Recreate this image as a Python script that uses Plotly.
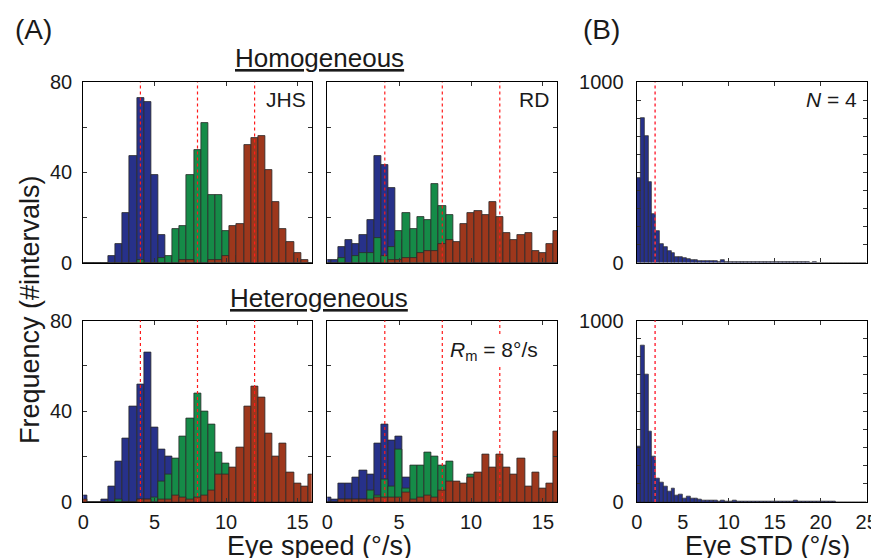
import plotly.graph_objects as go

# ---------------- data ----------------
speed_centers = [k * 0.5 for k in range(33)]  # bin centers 0..16 (deg/s)

# Homogeneous, JHS
hom_jhs_blue  = [0,0,0,0,3,8,22,47,73,71,39,12,1,0,0,0,0,0,0,0,0,0,0,0,0,0,0,0,0,0,0,0,0]
hom_jhs_green = [0,0,0,0,0,0,0,0,1,0,0,2,3,15,16,39,50,62,30,30,14,3,0,0,0,0,0,0,0,0,0,0,0]
hom_jhs_red   = [0,0,0,0,0,0,0,0,0,0,0,0,0,0,1,1,0,0,1,1,3,16,17,52,55,56,41,27,15,9,4,1,0]

# Homogeneous, RD
hom_rd_blue   = [1,1,7,10,8,12,19,47,43,33,10,0,0,0,0,0,0,0,0,0,0,0,0,0,0,0,0,0,0,0,0,0,0]
hom_rd_green  = [0,0,2,0,3,4,4,11,3,7,14,22,15,20,19,35,25,21,0,0,0,0,0,0,0,0,0,0,0,0,0,0,0]
hom_rd_red    = [0,0,0,0,0,0,0,0,0,1,1,2,2,4,5,5,8,10,9,17,22,23,21,27,20,13,10,12,13,5,4,8,14]

# Heterogeneous, JHS
het_jhs_blue  = [3,0,0,1,7,18,28,42,52,66,33,23,20,5,0,0,0,0,0,0,0,0,0,0,0,0,0,0,0,0,0,0,0]
het_jhs_green = [0,0,0,0,0,1,0,0,1,1,2,9,12,19,29,37,48,40,34,22,17,0,0,0,0,0,0,0,0,0,0,0,0]
het_jhs_red   = [1,0,0,0,0,0,0,0,1,1,0,1,1,3,2,1,2,3,5,12,12,15,24,42,51,46,30,20,26,13,8,7,12]

# Heterogeneous, RD
het_rd_blue   = [2,1,8,8,11,14,12,26,34,27,29,11,0,0,0,0,0,0,0,0,0,0,0,0,0,0,0,0,0,0,0,0,0]
het_rd_green  = [0,0,1,1,1,1,5,3,10,7,23,6,16,16,22,20,16,18,0,0,12,0,0,0,0,0,0,0,0,0,0,0,0]
het_rd_red    = [0,0,1,1,1,1,1,2,2,2,2,4,1,2,3,2,5,9,9,8,11,13,21,15,21,15,12,19,7,13,6,8,31]

target_speeds = [4, 8, 12]  # red dashed lines (deg/s)

# Eye STD histograms (N = 4), 60 bins over 0..25
std_bin_width = 25 / 60
std_centers = [(i + 0.5) * std_bin_width for i in range(60)]
hom_std = [468,802,701,446,266,174,105,86,64,50,33,33,27,18,14,14,11,9,8,7,6,5,12,5,4,3,3,2,3,2,
           3,2,2,1,2,1,2,1,1,1,2,1,1,1,1,0,1,0,0,0,0,0,0,0,0,0,0,0,0,0]
het_std = [306,862,701,389,253,128,106,83,59,74,37,40,22,28,18,18,15,9,8,7,6,5,6,5,4,6,4,3,5,3,
           3,4,3,2,3,2,3,2,2,3,1,6,2,2,3,1,2,2,1,1,3,1,0,0,0,0,0,0,0,0,0]
std_mean = 2.0

speed_ticks = [0, 5, 10, 15]
freq_ticks = [0, 20, 40, 60, 80]
freq_labels = ['0', '', '40', '', '80']
std_xticks = [0, 5, 10, 15, 20, 25]
std_yticks = list(range(0, 1001, 100))
std_ylabels = ['0'] + [''] * 9 + ['1000']

# ---------------- styling ----------------
OFF = 8                 # page body margin of the exported html
W, H = 879 - OFF, 558 - OFF
FONT = "Liberation Sans, Arial, Helvetica, sans-serif"
C_BLUE = "#27318a"
C_GREEN = "#158b48"
C_RED = "#9d371c"
EDGE = "#2a2a2a"

def px_x(p):
    return (p - OFF) / W

def px_y(p):
    return 1 - (p - OFF) / H

colA = [(83.3, 311.7), (327.3, 557.3)]
colB = (636.7, 866.7)
rows = [(82.0, 262.5), (320.5, 502.0)]

fig = go.Figure()

panels = [
    (1, 0, 0, [hom_jhs_blue, hom_jhs_green, hom_jhs_red]),
    (2, 0, 1, [hom_rd_blue, hom_rd_green, hom_rd_red]),
    (3, 1, 0, [het_jhs_blue, het_jhs_green, het_jhs_red]),
    (4, 1, 1, [het_rd_blue, het_rd_green, het_rd_red]),
]
colors = [C_BLUE, C_GREEN, C_RED]

layout_axes = {}
shapes = []

def axis_common():
    return dict(showline=True, linecolor="black", linewidth=1.3, mirror="ticks",
                ticks="inside", ticklen=4, tickcolor="#333", tickwidth=1,
                showgrid=False, zeroline=False, automargin=False,
                tickfont=dict(family=FONT, size=20, color="#1a1a1a"))

for idx, r, c, series in panels:
    xs = "x" if idx == 1 else f"x{idx}"
    ys = "y" if idx == 1 else f"y{idx}"
    for vals, col in zip(series, colors):
        fig.add_trace(go.Bar(x=speed_centers, y=vals, width=0.5,
                             marker=dict(color=col, line=dict(color=EDGE, width=0.8)),
                             xaxis=xs, yaxis=ys, showlegend=False))
    x0, x1 = colA[c]
    y0, y1 = rows[r]
    xa = axis_common()
    xa.update(domain=[px_x(x0), px_x(x1)], range=[0, 16], anchor=ys,
              tickvals=speed_ticks, showticklabels=(r == 1), ticklabelstandoff=2)
    ya = axis_common()
    ya.update(domain=[px_y(y1), px_y(y0)], range=[0, 80], anchor=xs,
              tickvals=freq_ticks, ticktext=freq_labels, ticklabelstandoff=6,
              showticklabels=(c == 0))
    layout_axes["xaxis" if idx == 1 else f"xaxis{idx}"] = xa
    layout_axes["yaxis" if idx == 1 else f"yaxis{idx}"] = ya
    for s in target_speeds:
        shapes.append(dict(type="line", xref=xs, yref=f"{ys} domain", x0=s, x1=s, y0=0, y1=1,
                           line=dict(color="#ff1a1a", width=1.2, dash="dot"), layer="above"))

for idx, r, vals in [(5, 0, hom_std), (6, 1, het_std)]:
    xs, ys = f"x{idx}", f"y{idx}"
    fig.add_trace(go.Bar(x=std_centers, y=vals, width=std_bin_width,
                         marker=dict(color=C_BLUE, line=dict(color=EDGE, width=0.7)),
                         xaxis=xs, yaxis=ys, showlegend=False))
    y0, y1 = rows[r]
    xa = axis_common()
    xa.update(domain=[px_x(colB[0]), px_x(colB[1])], range=[0, 25], anchor=ys,
              tickvals=std_xticks, showticklabels=(r == 1), ticklabelstandoff=2)
    ya = axis_common()
    ya.update(domain=[px_y(y1), px_y(y0)], range=[0, 1000], anchor=xs,
              tickvals=std_yticks, ticktext=std_ylabels, ticklabelstandoff=8)
    layout_axes[f"xaxis{idx}"] = xa
    layout_axes[f"yaxis{idx}"] = ya
    shapes.append(dict(type="line", xref=xs, yref=f"{ys} domain", x0=std_mean, x1=std_mean, y0=0, y1=1,
                       line=dict(color="#ff3344", width=1.5, dash="dot"), layer="above"))

def ann(text, x, y, size, xanchor="center", yanchor="middle", **kw):
    return dict(text=text, x=px_x(x), y=px_y(y), xref="paper", yref="paper",
                xanchor=xanchor, yanchor=yanchor, showarrow=False,
                font=dict(family=FONT, size=size, color="#1a1a1a"), **kw)

annotations = [
    ann("(A)", 33, 29, 28),
    ann("(B)", 601, 29, 28),
    ann("<u>Homogeneous</u>", 319, 58, 26),
    ann("<u>Heterogeneous</u>", 319, 298, 26),
    ann("JHS", 308, 100, 21, xanchor="right"),
    ann("RD", 551, 100, 21, xanchor="right"),
    ann("<i>N</i> = 4", 859, 100, 21, xanchor="right"),
    ann("<i>R</i><sub>m</sub> = 8°/s", 541, 351, 21, xanchor="right", bgcolor="white", borderpad=2),
    ann("Eye speed (°/s)", 319, 546, 27),
    ann("Eye STD (°/s)", 767, 546, 27),
    ann("Frequency (#intervals)", 30, 310, 27, textangle=-90),
]

fig.update_layout(
    template="none",
    width=W, height=H, margin=dict(l=0, r=0, t=0, b=0, autoexpand=False),
    paper_bgcolor="white", plot_bgcolor="white",
    barmode="overlay", bargap=0,
    shapes=shapes, annotations=annotations,
    font=dict(family=FONT),
    **layout_axes,
)

fig.write_html("out.html")
